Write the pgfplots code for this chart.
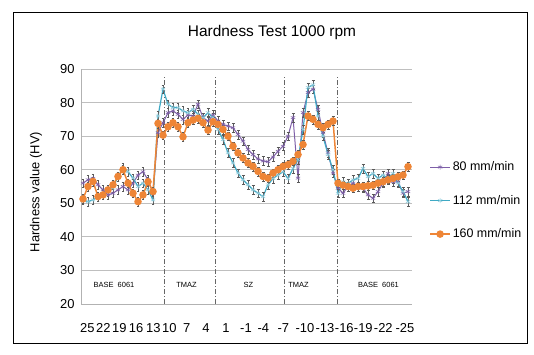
\documentclass[border=0pt]{standalone}
\usepackage{pgfplots}
\pgfplotsset{compat=1.18}
\usepackage{pgfplotstable}
\usepackage{fontspec}
\setmainfont{Liberation Sans}
\definecolor{cpurple}{HTML}{7E5FA8}
\definecolor{ccyan}{HTML}{3FA9C4}
\definecolor{corange}{HTML}{EE8536}
\pgfplotstableread{
idx p80 p112 p160
0 56 51 51.3
1 57 50.5 55
2 57.4 51 56.5
3 55.5 52 52
4 54 53 52.5
5 52.5 53.5 54
6 53 54.5 55.5
7 54 58 58
8 55 60.5 60
9 54 59.4 56
10 56 57.5 53
11 58.4 55 50.5
12 59.4 56 52.5
13 57 54 56.4
14 53 51 53.5
15 71 76 73.8
16 74 84 70.3
17 77 79.5 72.8
18 77.5 78.5 74
19 76.5 78.5 72.8
20 75 77.5 69.8
21 76.3 77 74
22 76 78 74.8
23 79.5 76.5 75.3
24 75.5 75.5 74
25 74.5 77 71.8
26 76.3 75.5 74.3
27 74.5 72 73.5
28 73.5 69 72
29 73 65 70
30 72.5 62 67
31 70.5 59 65
32 68.5 57 63.5
33 66 55.5 62
34 64.5 54 61
35 63.2 53 59.5
36 62.6 52 58
37 62.4 55.5 57.5
38 63.8 57.4 59
39 65.5 58.4 60
40 67 59.4 61
41 70 57.4 61.5
42 75.5 60.4 62.5
43 57.5 63 64.5
44 77 72 67.5
45 83 84.5 76
46 84 85.3 75
47 78 76 73.5
48 71 70 72.5
49 65 64.5 73.5
50 59 60 74.5
51 54.5 53 56
52 53 56.4 55.4
53 55 55.9 55
54 56 57 54.5
55 55 57.4 55
56 54.5 60.4 55
57 52.5 57.9 55.2
58 51.5 58.9 55.4
59 53.5 57.4 56
60 56 58.4 56.4
61 58.9 57.4 57
62 56.4 58.9 57.4
63 56.4 56 57.9
64 53 53.5 58.4
65 53.5 50.5 60.9
}\data
\begin{document}
\begin{tikzpicture}[x=1bp,y=1bp]
\useasboundingbox (0,0) rectangle (534,354);
\begin{axis}[
  at={(81bp,50bp)}, anchor=south west,
  scale only axis, width=331bp, height=235bp,
  xmin=-0.4, xmax=65.8, ymin=20, ymax=90,
  ytick={20,30,...,90},
  xtick={0.86,4.06,7.26,10.6,14.06,17.26,20.74,24.6,28.6,32.6,36.06,40.06,44.4,48.4,52.26,56.06,60.06,64.4},
  xticklabels={25,22,19,16,13,10,7,4,1,-1,-4,-7,-10,-13,-16,-19,-22,-25},
  major tick length=0pt,
  axis x line*=bottom, axis y line*=left,
  axis line style={gray!60, line width=0.8pt, -},
  ymajorgrids, grid style={gray!50, line width=0.9pt},
  /pgf/number format/assume math mode=true,
  tick label style={font=\fontsize{13}{15}\selectfont},
  xticklabel style={yshift=-19bp, inner sep=0pt},
  yticklabel style={xshift=-3bp},
  legend style={at={(rel axis cs:1.052,0.44)}, anchor=west, draw=none, fill=none,
    font=\fontsize{12.5}{14}\selectfont, row sep=19bp, inner sep=0pt},
  legend cell align=left,
  legend image code/.code={\draw[mark repeat=2,mark phase=2] plot coordinates {(0cm,0cm) (0.35cm,0cm) (0.7cm,0cm)};},
  clip=false,
]
\draw[black!60, line width=0.7pt, dash pattern=on 5pt off 2pt on 1pt off 2pt] (axis cs:16.2,20) -- (axis cs:16.2,87.5);
\draw[black!60, line width=0.7pt, dash pattern=on 5pt off 2pt on 1pt off 2pt] (axis cs:26.4,20) -- (axis cs:26.4,87.5);
\draw[black!60, line width=0.7pt, dash pattern=on 5pt off 2pt on 1pt off 2pt] (axis cs:40.2,20) -- (axis cs:40.2,87.5);
\draw[black!60, line width=0.7pt, dash pattern=on 5pt off 2pt on 1pt off 2pt] (axis cs:50.8,20) -- (axis cs:50.8,87.5);
\node[font=\fontsize{7.5}{9}\selectfont] at (axis cs:6.2,25.6) {BASE\ \ 6061};
\node[font=\fontsize{7.5}{9}\selectfont] at (axis cs:20.7,25.6) {TMAZ};
\node[font=\fontsize{7.5}{9}\selectfont] at (axis cs:33.1,25.8) {SZ};
\node[font=\fontsize{7.5}{9}\selectfont] at (axis cs:43.1,25.6) {TMAZ};
\node[font=\fontsize{7.5}{9}\selectfont] at (axis cs:59.1,25.8) {BASE\ \ 6061};
\addplot[cpurple, line width=1pt, mark=asterisk, mark size=2.5pt, mark options={line width=0.5pt},
  error bars/.cd, y dir=both, y fixed=1.3, error bar style={black!65, line width=0.4pt},
  error mark options={rotate=90, mark size=1.5pt, black!65}]
  table[x=idx, y=p80] {\data};
\addlegendentry{80 mm/min}
\addplot[ccyan, line width=1.2pt, mark=asterisk, mark size=2.5pt, mark options={line width=0.5pt, ccyan!60},
  error bars/.cd, y dir=both, y fixed=1.3, error bar style={black!65, line width=0.4pt},
  error mark options={rotate=90, mark size=1.5pt, black!65}]
  table[x=idx, y=p112] {\data};
\addlegendentry{112 mm/min}
\addplot[corange, line width=1.5pt, mark=*, mark size=3pt, mark options={fill=corange, draw=corange},
  error bars/.cd, y dir=both, y fixed=1.3, error bar style={black!65, line width=0.4pt},
  error mark options={rotate=90, mark size=1.5pt, black!65}]
  table[x=idx, y=p160] {\data};
\addlegendentry{160 mm/min}
\end{axis}
\node[font=\fontsize{15.5}{18}\selectfont] at (272,321) {Hardness Test 1000 rpm};
\node[font=\fontsize{13}{15}\selectfont, rotate=90] at (36,162) {Hardness value (HV)};
\draw[black, line width=0.8pt] (13,11) rectangle (527,342);
\end{tikzpicture}
\end{document}
